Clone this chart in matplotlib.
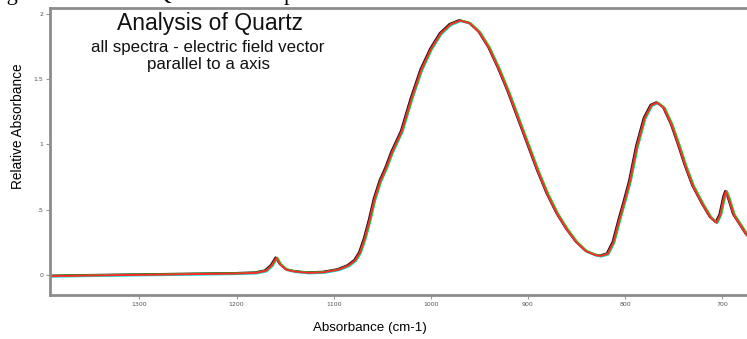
import matplotlib.pyplot as plt
import matplotlib.transforms as mtransforms
from matplotlib.ticker import FuncFormatter

# wavenumber (cm-1) and relative absorbance
wavenumber = [1392, 1350, 1300, 1250, 1200, 1180, 1170, 1164, 1159, 1155, 1149,
              1140, 1126, 1110, 1095, 1085, 1078, 1073, 1068, 1063, 1058, 1052,
              1046, 1040, 1030, 1020, 1010, 1000, 990, 980, 970, 960, 950, 940,
              930, 920, 910, 900, 890, 880, 870, 860, 850, 840, 830, 825, 818,
              812, 806, 800, 795, 788, 780, 773, 767, 760, 752, 745, 738, 730,
              720, 712, 706, 702, 698, 696, 693, 688, 681, 675, 669]
absorbance = [-0.01, -0.005, 0.0, 0.005, 0.01, 0.015, 0.03, 0.07, 0.13, 0.08, 0.04,
              0.025, 0.015, 0.02, 0.04, 0.07, 0.11, 0.17, 0.28, 0.42, 0.58, 0.72,
              0.82, 0.94, 1.10, 1.35, 1.57, 1.73, 1.85, 1.92, 1.95, 1.93, 1.86, 1.74,
              1.58, 1.40, 1.20, 1.00, 0.80, 0.62, 0.47, 0.35, 0.25, 0.18, 0.15, 0.145, 0.16,
              0.25, 0.42, 0.58, 0.72, 0.98, 1.20, 1.30, 1.32, 1.28, 1.15, 1.00, 0.84, 0.68,
              0.54, 0.44, 0.40, 0.46, 0.60, 0.64, 0.58, 0.46, 0.38, 0.31, 0.26]

spectra_colors = ['#1a1a1a', '#00e0e0', '#20d020', '#ff2a2a']
pixel_shift = [(-0.8, 0.6), (0.9, -0.6), (0.9, 0.3), (0, 0)]

xticks = [1300, 1200, 1100, 1000, 900, 800, 700]
yticks = [0, 0.5, 1, 1.5, 2]

fig = plt.figure(figsize=(7.47, 3.39), dpi=100)
ax = fig.add_axes([0.067, 0.130, 0.94, 0.846])

for color, (dx, dy) in zip(spectra_colors, pixel_shift):
    tr = mtransforms.offset_copy(ax.transData, fig=fig, x=dx, y=dy, units='dots')
    ax.plot(wavenumber, absorbance, color=color, lw=1.4, transform=tr)

ax.set_xlim(1392, 669)
ax.set_ylim(-0.154, 2.046)
ax.set_xticks(xticks)
ax.set_yticks(yticks)
ax.yaxis.set_major_formatter(FuncFormatter(
    lambda v, p: '0' if v == 0 else ('%g' % v).lstrip('0')))

for side in ['left', 'bottom', 'top']:
    ax.spines[side].set_color('#8c8c8c')
    ax.spines[side].set_linewidth(2)
ax.spines['right'].set_visible(False)
ax.tick_params(length=3, width=0.8, color='#999999', labelsize=4.5,
               labelcolor='#555555', pad=2)

ax.set_xlabel('Absorbance (cm-1)', fontsize=9.6, family='Liberation Sans')
ax.set_ylabel('Relative Absorbance', fontsize=9.8, family='Liberation Sans')
ax.xaxis.set_label_coords(0.456, -0.095)
ax.yaxis.set_label_coords(-0.036, 0.59)

ax.text(0.228, 0.985, 'Analysis of Quartz', transform=ax.transAxes, ha='center',
        va='top', fontsize=16.5, family='Liberation Sans', color='#111111')
ax.text(0.225, 0.888, 'all spectra - electric field vector\nparallel to a axis',
        transform=ax.transAxes, ha='center', va='top', fontsize=12.2,
        family='Liberation Sans', color='#111111', linespacing=1.15)

# caption above the chart, cut off by the top edge
fig.text(-0.016, 1.0, 'Figure 3. Scans of Quartz in Samples',
         fontsize=16, family='Liberation Serif', va='baseline', ha='left')

fig.savefig('out.png', dpi=100)
